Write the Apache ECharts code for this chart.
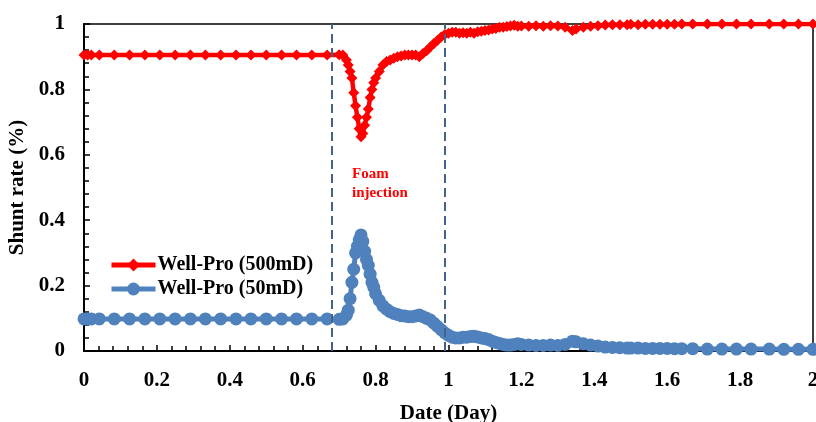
<!DOCTYPE html>
<html><head><meta charset="utf-8">
<script src="https://cdn.jsdelivr.net/npm/echarts@6/dist/echarts.min.js"></script>
<style>html,body{margin:0;padding:0;background:#fff}#c{width:816px;height:422px}</style>
</head><body><div id="c"></div>
<script>
var days = [0,0.01,0.02,0.042,0.083,0.125,0.167,0.208,0.25,0.292,0.333,0.375,0.417,0.458,0.5,0.542,0.583,0.625,0.667,0.70,
0.71,0.72,0.725,0.73,0.735,0.74,0.745,0.75,0.755,0.76,0.765,0.77,0.775,0.78,0.785,0.79,0.795,0.80,0.81,0.82,0.83,0.84,0.85,0.86,0.87,0.88,0.89,0.90,0.91,0.92,0.93,0.94,0.95,0.96,0.97,0.98,0.99,
1.00,1.01,1.02,1.03,1.04,1.05,1.06,1.07,1.08,1.09,1.10,1.11,1.12,1.13,1.14,1.15,1.16,1.17,1.18,1.19,1.20,1.22,1.24,1.26,1.28,1.30,1.32,1.34,1.35,1.37,1.39,1.41,1.43,1.45,1.47,1.49,1.50,1.52,1.54,1.56,1.58,1.60,1.62,1.64,1.67,1.71,1.75,1.79,1.83,1.88,1.92,1.96,2.0];
var pro500 = [0.905,0.905,0.905,0.905,0.905,0.905,0.905,0.905,0.905,0.905,0.905,0.905,0.905,0.905,0.905,0.905,0.905,0.905,0.905,0.906,
0.905,0.89,0.875,0.855,0.835,0.79,0.75,0.715,0.68,0.655,0.665,0.69,0.715,0.74,0.775,0.80,0.82,0.835,0.855,0.875,0.885,0.89,0.895,0.90,0.902,0.905,0.905,0.905,0.905,0.90,0.91,0.918,0.93,0.94,0.95,0.96,0.968,
0.972,0.975,0.975,0.972,0.973,0.972,0.975,0.972,0.976,0.978,0.98,0.982,0.985,0.986,0.99,0.99,0.992,0.994,0.996,0.993,0.994,0.993,0.995,0.993,0.995,0.994,0.99,0.98,0.985,0.99,0.993,0.995,0.997,0.998,0.998,0.998,0.999,0.998,0.999,0.999,0.999,0.999,0.999,1.0,1.0,1.0,1.0,1.0,1.0,1.0,1.0,1.0,1.0];
var pro50 = [0.098,0.098,0.098,0.098,0.098,0.098,0.098,0.098,0.098,0.098,0.098,0.098,0.098,0.098,0.098,0.098,0.098,0.098,0.098,0.097,
0.098,0.11,0.125,0.16,0.21,0.25,0.30,0.32,0.34,0.355,0.335,0.305,0.28,0.262,0.235,0.21,0.195,0.175,0.155,0.138,0.128,0.12,0.115,0.112,0.108,0.107,0.105,0.105,0.107,0.11,0.105,0.10,0.095,0.085,0.075,0.065,0.055,
0.048,0.042,0.04,0.04,0.042,0.042,0.044,0.045,0.043,0.04,0.038,0.035,0.03,0.026,0.023,0.02,0.018,0.018,0.02,0.022,0.02,0.018,0.017,0.017,0.018,0.017,0.02,0.03,0.028,0.022,0.018,0.015,0.012,0.011,0.01,0.009,0.009,0.009,0.008,0.008,0.008,0.008,0.007,0.007,0.007,0.006,0.006,0.006,0.006,0.006,0.005,0.005,0.005];
var injectionMarks = [0.684, 0.986];
var seriesNames = ['Well-Pro (500mD)', 'Well-Pro (50mD)'];

function pairs(ys){ return days.map(function(d,i){ return [d, ys[i]]; }); }
var font = '"Liberation Serif","Times New Roman",serif';
var chart = echarts.init(document.getElementById('c'));
chart.setOption({
  animation:false,
  grid:{left:84,right:3,top:24,bottom:71,show:true,borderColor:'#000',borderWidth:1.5,
    containLabel:false,outerBoundsMode:'none'},
  legend:{
    left:104, top:250, orient:'vertical', itemGap:4, itemWidth:44, itemHeight:16,
    textStyle:{fontFamily:font,fontWeight:'bold',fontSize:20,color:'#000',padding:[0,0,0,-3]},
    lineStyle:{width:5},
    data:seriesNames
  },
  xAxis:{type:'value',min:0,max:2,interval:0.2,
    name:'Date (Day)',nameLocation:'middle',nameGap:52,
    nameTextStyle:{fontFamily:font,fontWeight:'bold',fontSize:21,color:'#000'},
    axisLine:{lineStyle:{color:'#000',width:2}},
    axisTick:{inside:true,length:6,lineStyle:{color:'#000',width:1.5}},
    minorTick:{show:true,splitNumber:5,length:5,lineStyle:{color:'#000',width:1.5}},
    splitLine:{show:false},
    axisLabel:{fontFamily:font,fontWeight:'bold',fontSize:21,color:'#000',margin:19,
      formatter:function(v){return String(Math.round(v*10)/10);}}
  },
  yAxis:{type:'value',min:0,max:1,interval:0.2,
    name:'Shunt rate (%)',nameLocation:'middle',nameGap:50,
    nameTextStyle:{fontFamily:font,fontWeight:'bold',fontSize:21,color:'#000'},
    axisLine:{show:true,lineStyle:{color:'#000',width:2}},
    axisTick:{show:true,inside:true,length:6,lineStyle:{color:'#000',width:1.5}},
    minorTick:{show:true,splitNumber:5,length:5,lineStyle:{color:'#000',width:1.5}},
    splitLine:{show:false},
    axisLabel:{fontFamily:font,fontWeight:'bold',fontSize:21,color:'#000',margin:19,
      formatter:function(v){return String(Math.round(v*10)/10);}}
  },
  graphic:[{type:'text',left:352,top:165,style:{text:'Foam\ninjection',fill:'#FF0000',
    font:'bold 15px '+font,lineHeight:19}}],
  series:[
    {name:seriesNames[0],type:'line',data:pairs(pro500),symbol:'diamond',symbolSize:11,
      itemStyle:{color:'#FF0000'},lineStyle:{color:'#FF0000',width:4.5},z:3,
      markLine:{silent:true,symbol:['none','none'],label:{show:false},
        lineStyle:{color:'#44628C',type:[9,5],width:2},
        data:injectionMarks.map(function(v){return {xAxis:v};})}
    },
    {name:seriesNames[1],type:'line',data:pairs(pro50),symbol:'circle',symbolSize:13,
      itemStyle:{color:'#4F81BD'},lineStyle:{color:'#4F81BD',width:5},z:2}
  ]
});
</script></body></html>
